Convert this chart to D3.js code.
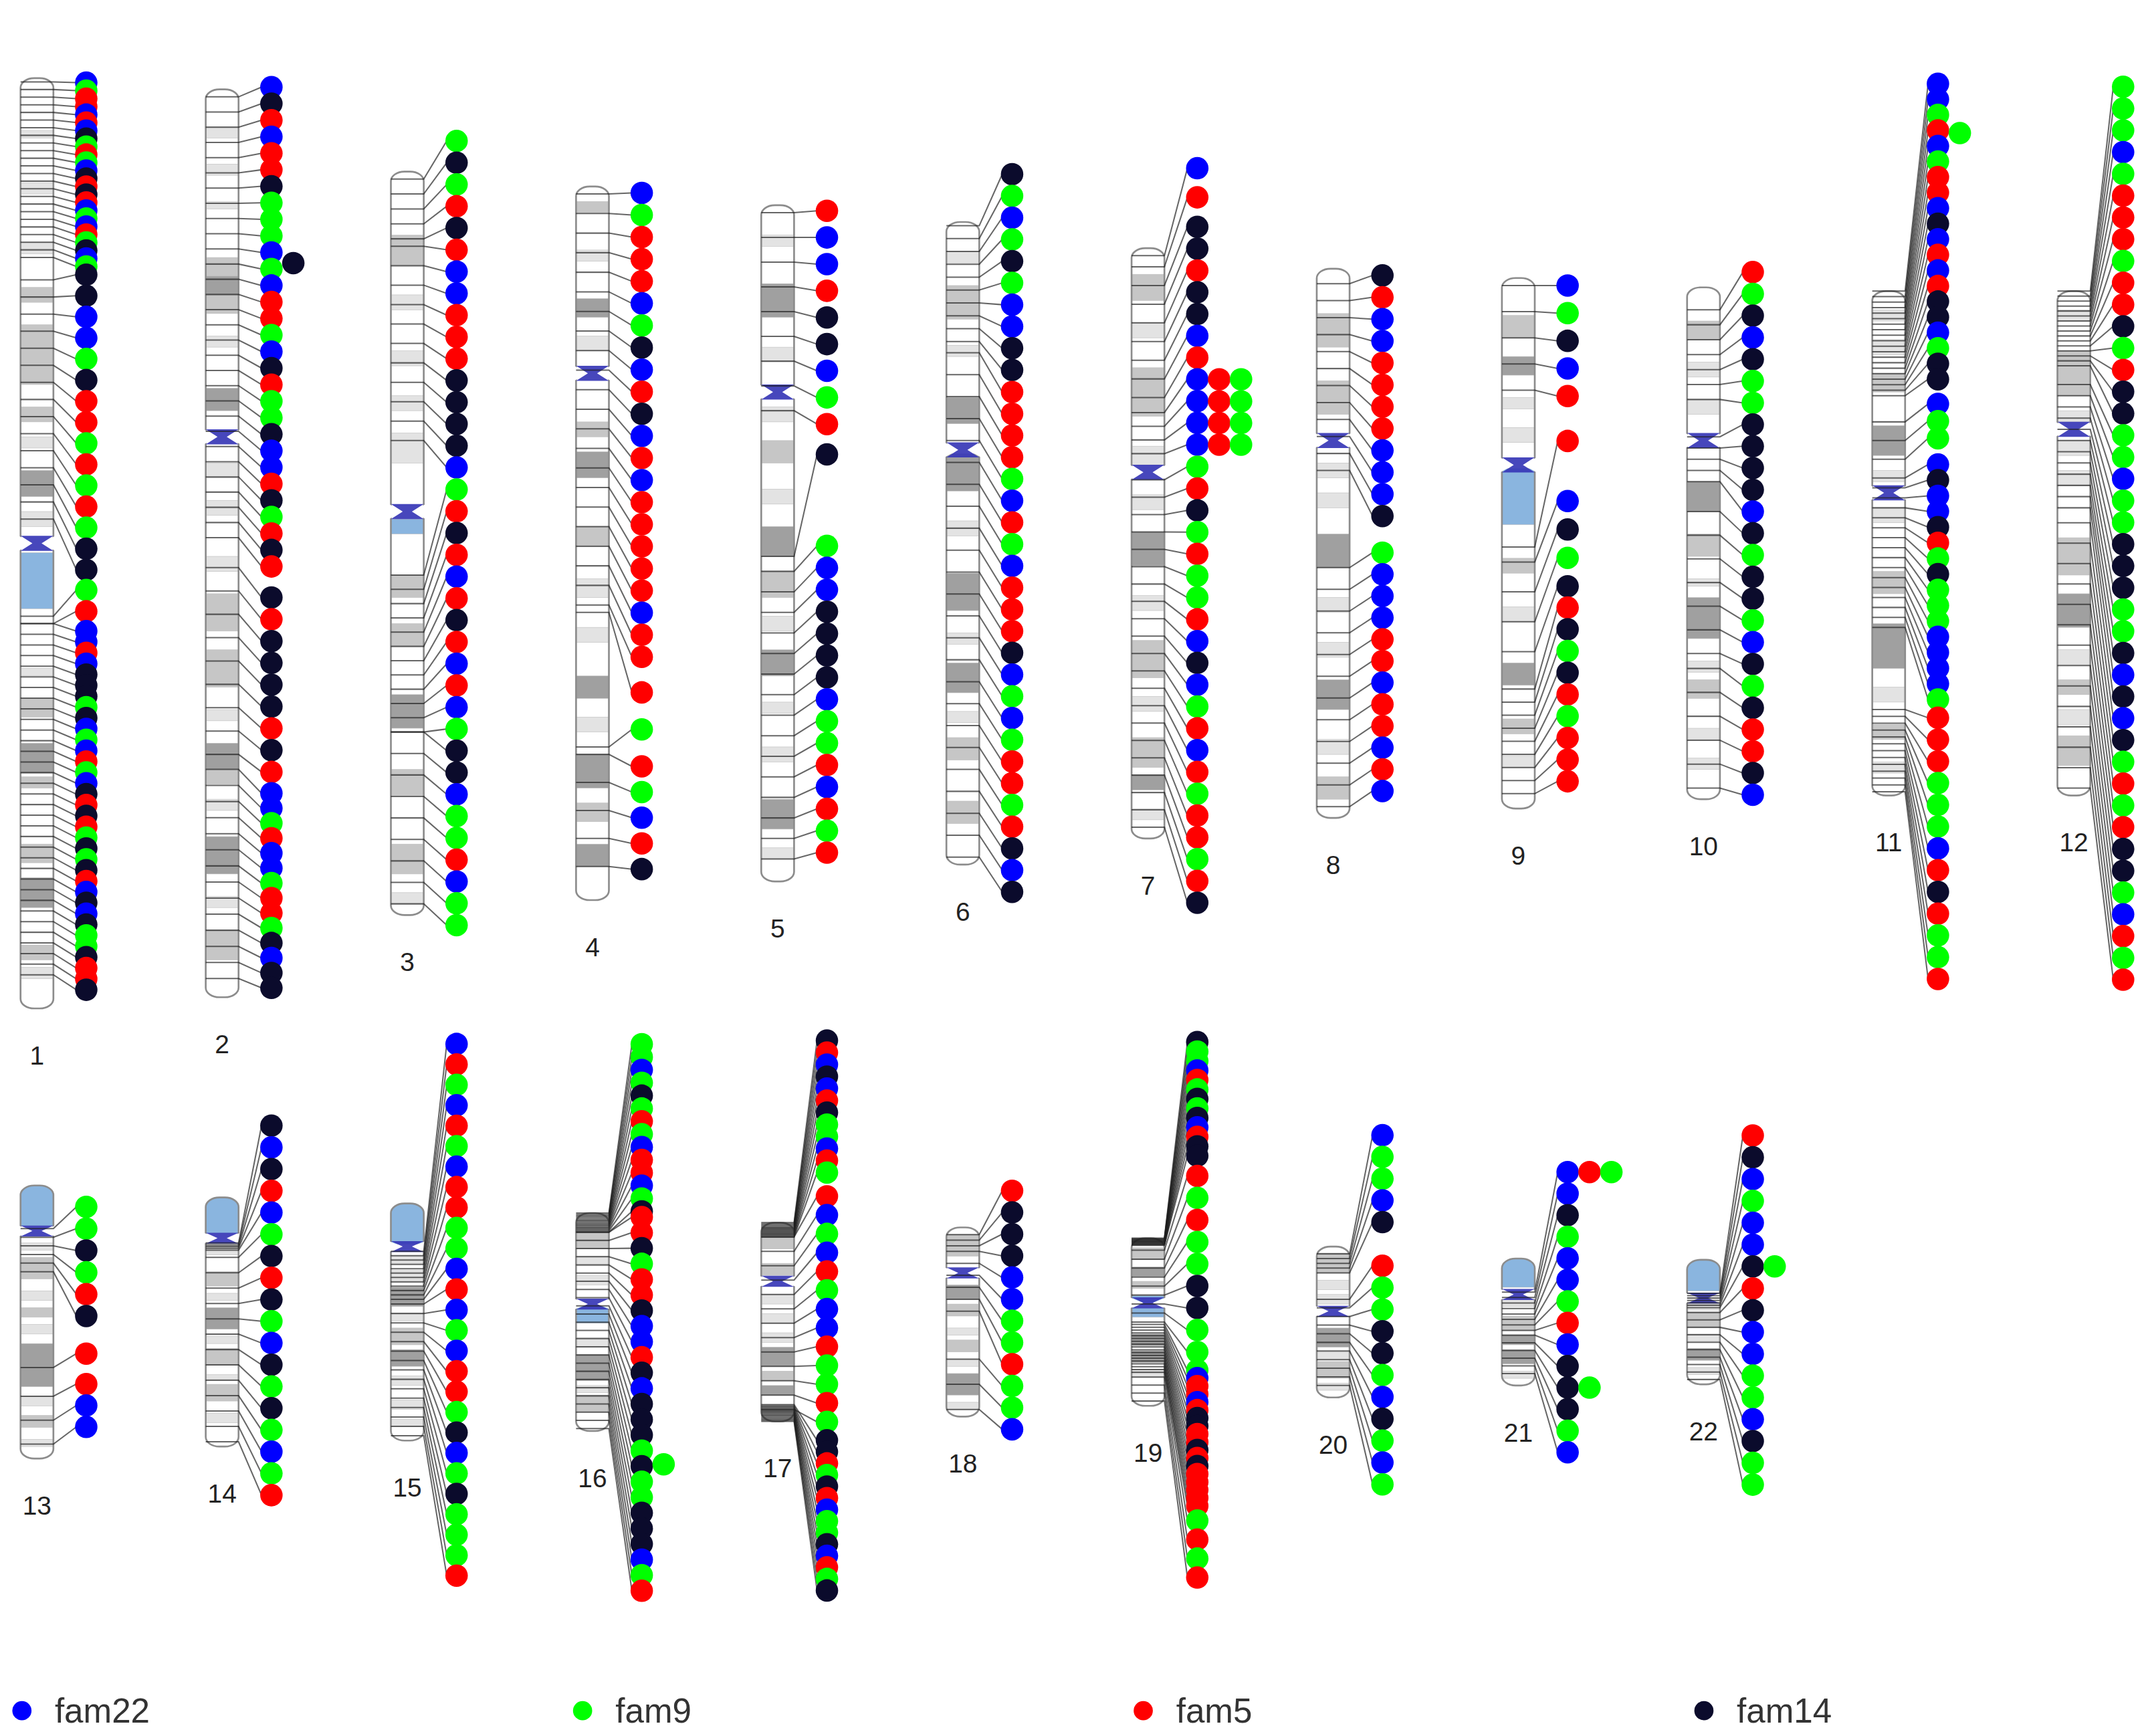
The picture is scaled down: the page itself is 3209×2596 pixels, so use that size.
<!doctype html>
<html lang="en">
<head>
<meta charset="utf-8">
<title>Gene families on human chromosomes</title>
<style>
  body { margin: 0; background: #fff; }
  svg { display: block; }
  text { font-family: "Liberation Sans", Arial, sans-serif; }
</style>
</head>
<body>
<script src="https://cdn.jsdelivr.net/npm/d3@7/dist/d3.min.js"></script>
<svg id="chart"></svg>
<script>
// ---- data ----
const chromNames = ["1","2","3","4","5","6","7","8","9","10","11","12",
                    "13","14","15","16","17","18","19","20","21","22"];
// drawn length of each chromosome (Mb)
const chromLengths = [249,243,199,191,181,172,158,147,142,137,135,135,
                      114,104,99,91,83,79,70,63,53,52];
// centromere position (Mb from the top)
const centromeres = [124.5,93,91,50,50,61,60,46,50,41,54,37,
                     19,17,18,38,24.5,19,27,27,15,16];

// bands: [start, end, shade]  shade 1 light, 2 mid, 3 dark, 4 heterochromatin blue
const chromBands = [
  [[14,16,1],[28,31,1],[44,47,1],[56,60,2],[66,82,2],[88,92,2],[96,99,1],[105,112,3],[116,120,1],[127,142,4],[158,160,1],[166,171,2],[178,186,3],[187,190,2],[205,210,2],[214,222,3],[232,236,2],[238,241,1]],
  [[10,13,1],[20,23,1],[30,32,1],[45,50,2],[50,55,3],[55,60,2],[66,69,1],[80,86,3],[100,104,1],[110,114,1],[125,129,1],[135,145,2],[150,160,2],[166,169,1],[175,182,3],[182,186,2],[190,193,1],[200,210,3],[216,219,1],[225,233,2]],
  [[17,25,2],[33,37,1],[48,52,1],[60,64,1],[70,78,1],[93,97,4],[108,114,2],[121,127,2],[140,149,3],[160,167,2],[180,188,2],[193,196,1]],
  [[4,7,2],[17,20,1],[30,35,3],[40,44,1],[63,67,2],[71,78,3],[91,96,2],[105,110,1],[118,122,1],[131,137,3],[142,146,1],[152,161,3],[165,170,2],[176,182,3]],
  [[8,11,1],[21,30,3],[38,42,1],[54,58,1],[63,69,2],[76,80,1],[86,94,3],[98,105,2],[110,114,1],[119,126,3],[133,136,1],[145,149,1],[159,167,3],[172,175,1]],
  [[8,11,1],[17,26,2],[33,36,1],[47,54,3],[62,72,3],[80,84,1],[94,104,3],[110,113,1],[118,126,3],[131,134,1],[138,144,2],[155,161,2]],
  [[7,14,2],[20,24,1],[32,45,2],[53,58,1],[66,70,1],[76,85,3],[93,97,1],[105,115,2],[120,124,1],[131,139,2],[141,145,3],[150,153,1]],
  [[12,21,2],[30,39,2],[52,56,1],[60,64,1],[71,80,3],[88,92,1],[100,104,1],[110,118,3],[126,130,1],[136,142,2]],
  [[10,16,2],[21,26,3],[32,35,1],[40,44,1],[51,66,4],[75,79,2],[88,92,1],[103,109,3],[118,122,2],[128,131,1]],
  [[9,14,2],[20,24,1],[30,34,1],[52,60,3],[66,72,2],[78,80,1],[83,94,3],[100,103,1],[105,110,2],[118,121,1],[126,129,1]],
  [[5,8,1],[13,17,1],[22,27,2],[36,44,3],[48,51,1],[58,62,1],[75,81,2],[89,101,3],[106,110,1],[116,120,2],[126,129,1]],
  [[5,8,1],[16,28,2],[32,35,1],[40,44,1],[48,52,1],[66,76,2],[81,90,3],[96,100,1],[104,108,2],[112,116,1],[119,127,2]],
  [[0,17,4],[24,27,1],[30,39,2],[44,48,1],[51,55,2],[58,62,1],[66,84,3],[88,92,1],[96,101,2],[106,109,1]],
  [[0,15,4],[20,24,1],[31,37,2],[40,43,1],[46,55,3],[58,61,1],[63,70,2],[74,76,1],[78,85,2],[90,94,1]],
  [[0,17,4],[22,25,1],[28,32,1],[35,43,3],[46,49,1],[52,59,2],[61,68,3],[72,76,1],[82,86,1],[90,93,1]],
  [[3,6,1],[6,15,2],[18,22,1],[26,30,1],[39,46,4],[52,56,1],[59,70,3],[72,75,1],[76,83,2]],
  [[2,11,2],[17,22,2],[30,34,1],[38,42,1],[46,50,1],[52,60,3],[62,66,2],[68,72,3],[76,79,1]],
  [[3,12,2],[24,30,3],[32,37,2],[42,45,1],[47,52,2],[55,58,1],[61,70,3],[73,76,1]],
  [[4,9,2],[12,16,3],[18,21,2],[24,27,4],[29,33,4],[40,45,3],[47,52,3],[55,58,1]],
  [[3,11,2],[14,18,1],[20,24,1],[34,42,3],[44,47,1],[48,55,2],[57,60,1]],
  [[0,12,4],[17,20,1],[24,30,2],[32,36,3],[38,44,3],[47,50,1]],
  [[0,13,4],[18,21,1],[22,28,2],[31,34,1],[37,42,3],[45,48,1]]
];

// gene family letters: b fam22, g fam9, r fam5, k fam14
// dot runs: [first dot, last dot, families top->bottom, first anchor, last anchor] (Mb)
const dotRuns = [
  [[1.2,50.4,"bgrrbrbkgrgbkrkrbgbrgkbg",1,48],[52.6,131.6,"kkbbgkrrgrgrgkk",54,118],[137,142.7,"gr",144,146],[148,244,"bbrbkkkgkbgbrgbkrkrgkgkrbkbkggkrrk",146,240]],
  [[-0.6,127.7,"bkrbrrkgggbgbrrgbkrggkbbrkgrkr",2,120],[136,182.7,"krkkkkrkr",128,178],[188.4,240.5,"bbgrbbgrrgkbkk",182,238]],
  [[-8.2,15.1,"gkgrk",2,18],[20.95,79.2,"rbbrrrkkkkb",20,72],[85.1,149.2,"grkrbrkrbrbg",108,150],[155,201.7,"kkbggrbgg",150,196]],
  [[1.7,125.9,"bgrrrbgkbrkbrbrrrrrbrr",2,112],[135.4,135.4,"r",114,114],[145.3,145.3,"g",150,150],[155.2,182.7,"rgbrk",152,182]],
  [[1.5,58.6,"rbbrkkbgr",2,55],[66.7,66.7,"k",94,94],[91.2,173.3,"gbbkkkkbggrbrgr",98,175]],
  [[-12.8,39.6,"kgbgkgbbkk",1,32],[45.5,179.3,"rrrrgbrgbrrrkbgbgrrgrkbk",35,170]],
  [[-21.4,-21.4,"b",2,2],[-13.6,-13.6,"r",5,5],[-5.7,29.3,"kkrkkbr",10,40],[35.1,52.6,"bbbb",44,55],[58.5,175.2,"grkgrggrbkbgrbrgrrgrk",62,155]],
  [[1.8,66.2,"krbbrrrrbbbk",4,54],[76,139.8,"gbbbrrbrrbrb",80,144]],
  [[2,31.6,"bgkbr",2,30],[43.6,43.6,"r",72,72],[59.7,82.5,"bkgk",76,100],[88.2,134.7,"rkgkrgrrr",110,138]],
  [[-4.1,30.9,"rgkbkgg",6,30],[36.7,60,"kkkkb",40,52],[65.8,100.8,"kgkkgbk",60,98],[106.7,135.8,"gkrrkb",102,134]],
  [[-55.5,23.6,"bbgrbgrrbkbrbrkkbgkk",0,28],[30.2,39.4,"bgg",35,45],[46.4,109.3,"bkbbkrgkgggbbbbg",50,90],[114.2,184.1,"rrrgggbrkrggr",112,134]],
  [[-54.7,32.75,"gggbgrrrgrrkgrkk",0,20],[38.6,102.7,"ggbggkkkggkb",25,58],[108.5,184.3,"kbkgrgrkkgbrgr",62,133]],
  [[8.9,54.5,"ggkgrk",18,36],[70.2,70.2,"r",76,76],[82.9,100.8,"rbb",88,108]],
  [[-30,6.3,"kbkrb",19,22],[15.4,124.3,"gkrkgbkgkgbgr",25,102]],
  [[-66.6,27.3,"brgbrgbrrggb",20,40],[35.9,155.4,"rbgbrrgkbgkgggr",42,97]],
  [[-70.5,-0.7,"ggbgkgrgbrrbgk",0,8],[1.7,157.7,"rrkgrrkbbrkbkkkgkggkkkbgr",8,90]],
  [[-76,-20.9,"krbkbrkggbrg",0,6],[-11,83.2,"rbgbrgbbrggrg",6,78],[90.9,153.6,"kkrgkrbggkbrgk",76,83]],
  [[-15.3,11.85,"rkkk",3,10],[20.9,57.1,"bbggr",15,35],[66.2,84.3,"ggb",55,76]],
  [[-81.9,-34.4,"kggbrgkgkbrkk",0,3],[-26,47.5,"rgrggkkgg",5,35],[55.1,111.8,"gbrrbrkkrrkrkrrrrr",36,56],[117.9,141.7,"grgr",58,68]],
  [[-46.5,-10.2,"bggbk",3,11],[8,99.3,"rggkkgbkgbg",22,58]],
  [[-36.1,26.9,"bbkgbbgr",14,30],[35.9,80.9,"bkkkgb",32,48]],
  [[-51.9,2.8,"rkbgbbk",14,20],[12,93.9,"rkbbggbkgg",22,50]]
];

// dots pushed into extra columns: [chromosome, position (Mb), column, family letter]
const extraDots = [
  ["2",46.5,1,"k"],
  ["7",35.1,1,"r"],["7",41.0,1,"r"],["7",46.8,1,"r"],["7",52.6,1,"r"],
  ["7",35.1,2,"g"],["7",41.0,2,"g"],["7",46.8,2,"g"],["7",52.6,2,"g"],
  ["11",-42.3,1,"g"],
  ["16",104.9,1,"g"],
  ["21",-36.1,1,"r"],["21",-36.1,2,"g"],["21",53.9,1,"g"],
  ["22",2.8,1,"g"]
];

const families = ["fam22","fam9","fam5","fam14"];
const famLetters = ["b","g","r","k"];
const famColors = ["#0000ff","#00ff00","#ff0000","#0b0b2c"];
const bandColors = ["#ffffff","#e3e3e3","#c6c6c6","#a0a0a0","#8ab5df"];

// ---- layout ----
const W = 1568, H = 1268.5;
const svg = d3.select("#chart")
  .attr("width", 3209).attr("height", 2596)
  .attr("viewBox", `0 0 ${W} ${H}`);

const rows = [{center: 397, pxPerMb: 2.73, cenH: 11}, {center: 966, pxPerMb: 1.75, cenH: 8}];
const colX = d3.scaleLinear().domain([0, 11]).range([15, 1503.3]);
const chromW = 24, dotGap = 48, dotR = 8.2, colStep = 16;

const letterToFam = d3.scaleOrdinal().domain(famLetters).range(families);
const famColor = d3.scaleOrdinal().domain(families).range(famColors);

const chroms = chromNames.map((name, i) => {
  const row = i < 12 ? 0 : 1;
  const col = i < 12 ? i : i - 12;
  const L = chromLengths[i];
  const r = rows[row];
  const top = r.center - L * r.pxPerMb / 2;
  const y = d3.scaleLinear().domain([0, L]).range([top, top + L * r.pxPerMb]);
  const x0 = colX(col);
  const dots = [];
  dotRuns[i].forEach(([d0, d1, fams, a0, a1]) => {
    const n = fams.length;
    fams.split("").forEach((c, j) => {
      const t = n > 1 ? j / (n - 1) : 0;
      dots.push({pos: d0 + t * (d1 - d0), anchor: a0 + t * (a1 - a0), fam: letterToFam(c)});
    });
  });
  return {name, i, row, L, x0, y, cen: centromeres[i], bands: chromBands[i], dots, cenH: r.cenH};
});

const defs = svg.append("defs");
const byName = new Map(chroms.map(c => [c.name, c]));

const gChrom = svg.append("g");
chroms.forEach(c => {
  const [yt, yb] = c.y.range();
  const id = "clip" + c.name;
  defs.append("clipPath").attr("id", id)
    .append("rect").attr("x", c.x0).attr("y", yt).attr("width", chromW)
    .attr("height", yb - yt).attr("rx", 10).attr("ry", 7);

  const g = gChrom.append("g");
  g.append("rect").attr("x", c.x0).attr("y", yt).attr("width", chromW)
    .attr("height", yb - yt).attr("rx", 10).attr("ry", 7).attr("fill", "#fff");
  g.append("g").attr("clip-path", `url(#${id})`)
    .selectAll("rect").data(c.bands).join("rect")
      .attr("x", c.x0).attr("width", chromW)
      .attr("y", d => c.y(d[0]))
      .attr("height", d => c.y(d[1]) - c.y(d[0]))
      .attr("fill", d => bandColors[d[2]])
      .attr("stroke", "#bdbdbd").attr("stroke-width", 0.3);
  g.append("rect").attr("x", c.x0).attr("y", yt).attr("width", chromW)
    .attr("height", yb - yt).attr("rx", 10).attr("ry", 7)
    .attr("fill", "none").attr("stroke", "#8c8c8c").attr("stroke-width", 1.3);

  // centromere: pinched outline and blue hourglass
  const cy = c.y(c.cen), h = c.cenH, x0 = c.x0, w = chromW;
  g.append("path").attr("fill", "#fff")
    .attr("d", `M${x0 - 1.5},${cy - h / 2}L${x0 + w * 0.36},${cy}L${x0 - 1.5},${cy + h / 2}Z` +
               `M${x0 + w + 1.5},${cy - h / 2}L${x0 + w * 0.64},${cy}L${x0 + w + 1.5},${cy + h / 2}Z`);
  g.append("path").attr("fill", "#3737b6").attr("opacity", 0.92)
    .attr("d", `M${x0},${cy - h / 2}H${x0 + w}L${x0 + w * 0.64},${cy}L${x0 + w},${cy + h / 2}` +
               `H${x0}L${x0 + w * 0.36},${cy}Z`);

  g.append("text")
    .attr("x", x0 + w / 2).attr("y", yb + 41)
    .attr("text-anchor", "middle").attr("font-size", 19).attr("fill", "#222")
    .text(c.name);
});

// connectors
const link = d3.line();
const gLinks = svg.append("g").attr("fill", "none").attr("stroke", "#1e1e1e")
  .attr("stroke-opacity", 0.68).attr("stroke-width", 1);
chroms.forEach(c => {
  const dx = c.x0 + dotGap;
  gLinks.append("g").selectAll("path").data(c.dots).join("path")
    .attr("d", d => link([[c.x0, c.y(d.anchor)], [c.x0 + chromW, c.y(d.anchor)],
                          [dx - dotR + 1, c.y(d.pos)]]));
});

// dots, drawn top to bottom so lower dots sit over upper ones
const gDots = svg.append("g");
chroms.forEach(c => {
  gDots.append("g").selectAll("circle").data(c.dots).join("circle")
    .attr("cx", c.x0 + dotGap).attr("cy", d => c.y(d.pos)).attr("r", dotR)
    .attr("fill", d => famColor(d.fam));
});
gDots.append("g").selectAll("circle").data(extraDots).join("circle")
  .attr("cx", d => byName.get(d[0]).x0 + dotGap + d[2] * colStep)
  .attr("cy", d => byName.get(d[0]).y(d[1]))
  .attr("r", dotR)
  .attr("fill", d => famColor(letterToFam(d[3])));

// legend
const legX = d3.scalePoint().domain(families).range([16, 1245]);
const leg = svg.append("g").selectAll("g").data(families).join("g")
  .attr("transform", d => `translate(${legX(d)},1250)`);
leg.append("circle").attr("r", 7).attr("fill", d => famColor(d));
leg.append("text").attr("x", 24).attr("dy", "0.35em")
  .attr("font-size", 25).attr("fill", "#333").text(d => d);
</script>
</body>
</html>
